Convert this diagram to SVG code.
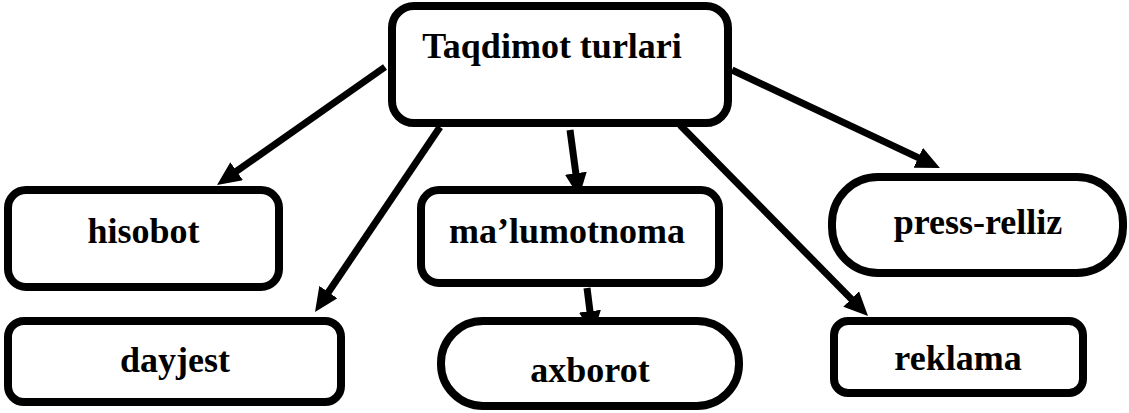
<svg xmlns="http://www.w3.org/2000/svg" width="1129" height="413" viewBox="0 0 1129 413">
<style>
.box{fill:#fff;stroke:#000;stroke-width:8}
.lbl{font-family:"Liberation Serif","Times New Roman",serif;font-weight:bold;font-size:36px;fill:#000;text-anchor:middle}
.conn{stroke:#000;stroke-width:7;fill:none;marker-end:url(#ah)}
</style>
<defs>
<marker id="ah" markerUnits="userSpaceOnUse" viewBox="0 0 24 22" markerWidth="24" markerHeight="22" refX="14" refY="11" orient="auto">
<path d="M0,0 L24,11 L0,22 z" fill="#000"/>
</marker>
</defs>
<rect width="1129" height="413" fill="#fff"/>
<g id="connectors">
<line class="conn" x1="385" y1="67" x2="225.2" y2="179.2"/>
<line class="conn" x1="440" y1="127" x2="320.6" y2="303.7"/>
<line class="conn" x1="570" y1="130" x2="577.7" y2="187.1"/>
<line class="conn" x1="587" y1="288" x2="591.7" y2="325.1"/>
<line class="conn" x1="732" y1="70" x2="930.9" y2="163.7"/>
<line class="conn" x1="680" y1="125" x2="861" y2="308.9"/>
</g>
<g id="node-taqdimot">
<rect class="box" x="392" y="6" width="336" height="117" rx="22"/>
<text class="lbl" x="552" y="58">Taqdimot turlari</text>
</g>
<g id="node-hisobot">
<rect class="box" x="8" y="190" width="271" height="97" rx="18"/>
<text class="lbl" x="143.5" y="243">hisobot</text>
</g>
<g id="node-dayjest">
<rect class="box" x="8" y="321" width="333" height="81" rx="16"/>
<text class="lbl" x="175" y="372">dayjest</text>
</g>
<g id="node-malumotnoma">
<rect class="box" x="421" y="190" width="298" height="93" rx="18"/>
<text class="lbl" x="567" y="243">ma’lumotnoma</text>
</g>
<g id="node-axborot">
<rect class="box" x="441" y="321" width="298" height="85" rx="42"/>
<text class="lbl" x="590" y="382">axborot</text>
</g>
<g id="node-press-relliz">
<rect class="box" x="832" y="177" width="291" height="96" rx="46"/>
<text class="lbl" x="978" y="234">press-relliz</text>
</g>
<g id="node-reklama">
<rect class="box" x="834" y="321" width="249" height="72" rx="14"/>
<text class="lbl" x="958" y="370">reklama</text>
</g>
</svg>
